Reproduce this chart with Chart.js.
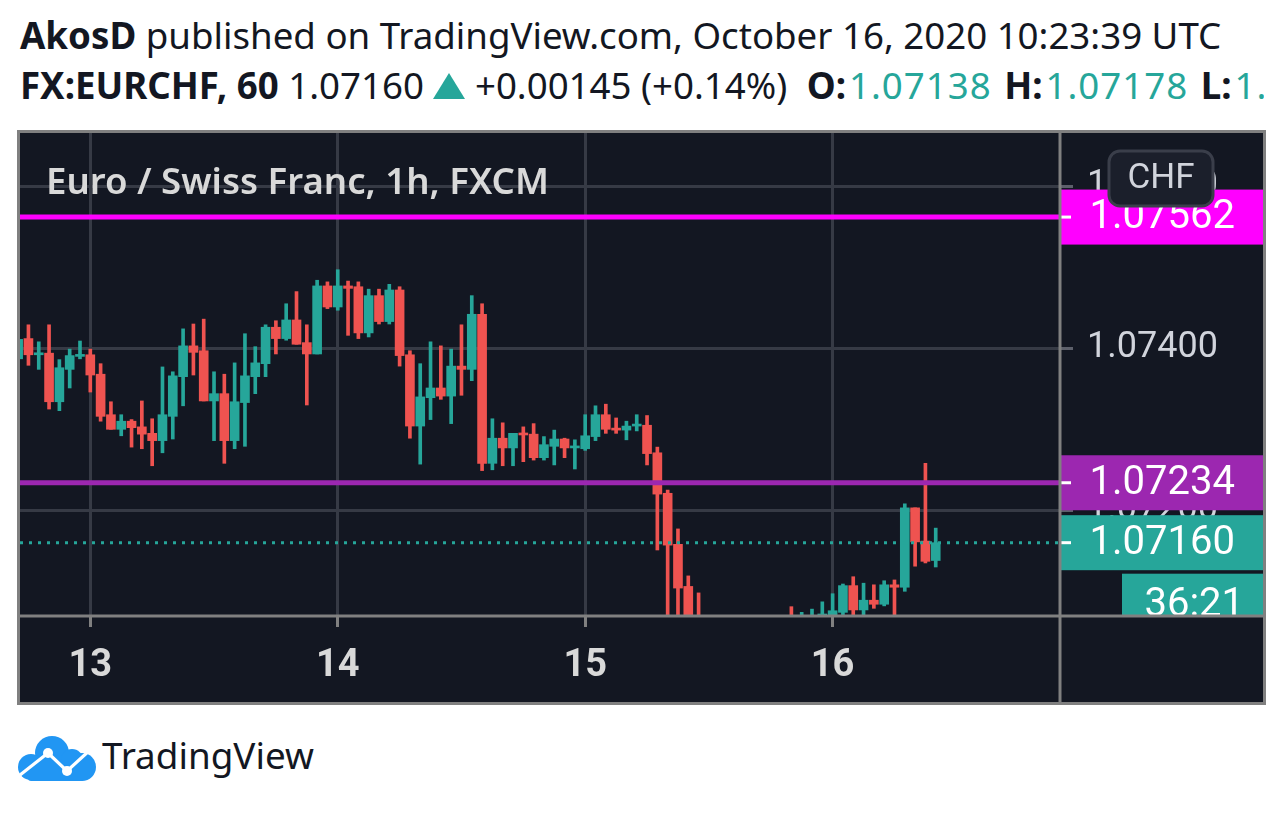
<!DOCTYPE html>
<html>
<head>
<meta charset="utf-8">
<script src="https://cdn.jsdelivr.net/npm/chart.js@4.4.1/dist/chart.umd.min.js"></script>
<style>
  html, body { margin:0; padding:0; background:#ffffff; width:1284px; height:813px; overflow:hidden; }
  .hdr { position:absolute; left:20px; white-space:nowrap; font-family:"Noto Sans", sans-serif; color:#131722; line-height:1; }
  #hdrclip { position:absolute; left:0; top:0; width:1264px; height:125px; overflow:hidden; }
  .teal { color:#26a69a; margin-left:3px; letter-spacing:1px; }
  .gapO { margin-left:10px; }
  .gap { margin-left:3px; }
  b { font-weight:700; }
  #wrap { position:absolute; left:17px; top:130px; width:1249px; height:575px; }
  #logo { position:absolute; left:18px; top:736px; }
  #logotext { position:absolute; left:102px; white-space:nowrap; font-family:"Noto Sans", sans-serif; color:#131722; line-height:1; }
  .tri { display:inline-block; vertical-align:baseline; }
</style>
</head>
<body>
<div id="hdrclip">
  <div class="hdr" id="h1"><b>AkosD</b> published on TradingView.com, October 16, 2020 10:23:39 UTC</div>
  <div class="hdr" id="h2"><b>FX:EURCHF, 60</b> 1.07160 <svg class="tri" width="32" height="26" viewBox="0 0 32 26"><polygon points="16,0 32,26 0,26" fill="#26a69a"/></svg> +0.00145 (+0.14%) <b class="gapO">O:</b><span class="teal">1.07138</span> <b class="gap">H:</b><span class="teal">1.07178</span> <b class="gap">L:</b><span class="teal">1.07130</span> <b class="gap">C:</b><span class="teal">1.07160</span></div>
</div>
<div id="wrap"><canvas id="c" width="1249" height="575"></canvas></div>
<svg id="logo" width="78" height="45" viewBox="0 0 78 45">
  <g fill="#2196f3">
    <circle cx="34" cy="17" r="17"/>
    <circle cx="13" cy="31" r="13"/>
    <circle cx="64" cy="31" r="14"/>
    <circle cx="54" cy="24" r="11"/>
    <rect x="10" y="24" width="56" height="21" rx="3"/>
  </g>
  <polyline points="2,39 30,17 49,35 72,14" fill="none" stroke="#ffffff" stroke-width="3.2" stroke-linejoin="round"/>
  <circle cx="30" cy="17" r="5" fill="#ffffff"/>
  <circle cx="49" cy="35" r="5" fill="#ffffff"/>
</svg>
<div id="logotext">TradingView</div>

<script>
// ---------------- DATA ----------------
// hourly candles, index 0 = first visible candle (12 Oct 17:00); x = hours since 13 Oct 00:00
const firstHour = -7;
const opens  = [1.07387,1.07412,1.07392,1.07394,1.07334,1.07374,1.07390,1.07392,1.07368,1.07318,
                1.07300,1.07310,1.07303,1.07295,1.07286,1.07316,1.07365,1.07403,1.07397,1.07335,
                1.07344,1.07286,1.07333,1.07365,1.07381,1.07426,1.07412,1.07435,1.07407,1.07393,
                1.07477,1.07451,1.07477,1.07476,1.07419,1.07465,1.07433,1.07472,1.07392,1.07304,
                1.07339,1.07351,1.07341,1.07378,1.07374,1.07442,1.07258,1.07289,1.07277,1.07295,
                1.07294,1.07265,1.07279,1.07288,1.07277,1.07276,1.07291,1.07318,1.07301,1.07299,
                1.07304,1.07305,1.07271,1.07221,1.07158,1.07106,1.07060,1.07035,1.07045,1.07030,
                1.07040,1.07025,1.07038,1.07045,1.07050,1.07055,1.07040,1.07055,1.07060,1.07064,
                1.07074,1.07107,1.07077,1.07089,1.07084,1.07108,1.07105,1.07203,1.07162,1.07138];
const highs  = [1.07411,1.07429,1.07408,1.07429,1.07386,1.07399,1.07409,1.07399,1.07381,1.07334,
                1.07318,1.07312,1.07335,1.07313,1.07377,1.07371,1.07424,1.07430,1.07436,1.07371,
                1.07368,1.07382,1.07418,1.07402,1.07429,1.07434,1.07455,1.07470,1.07429,1.07484,
                1.07482,1.07497,1.07483,1.07482,1.07473,1.07473,1.07479,1.07476,1.07397,1.07381,
                1.07408,1.07403,1.07399,1.07429,1.07465,1.07455,1.07313,1.07308,1.07295,1.07303,
                1.07307,1.07291,1.07299,1.07289,1.07287,1.07318,1.07329,1.07331,1.07314,1.07310,
                1.07318,1.07317,1.07278,1.07225,1.07177,1.07119,1.07098,1.07060,1.07062,1.07055,
                1.07058,1.07050,1.07060,1.07062,1.07065,1.07081,1.07074,1.07078,1.07087,1.07097,
                1.07109,1.07118,1.07110,1.07108,1.07113,1.07114,1.07208,1.07203,1.07258,1.07178];
const lows   = [1.07387,1.07379,1.07374,1.07325,1.07323,1.07351,1.07387,1.07346,1.07310,1.07300,
                1.07292,1.07278,1.07276,1.07255,1.07271,1.07288,1.07329,1.07367,1.07335,1.07286,
                1.07258,1.07276,1.07279,1.07344,1.07365,1.07393,1.07410,1.07405,1.07330,1.07393,
                1.07449,1.07447,1.07416,1.07412,1.07414,1.07430,1.07430,1.07378,1.07289,1.07257,
                1.07312,1.07337,1.07307,1.07342,1.07360,1.07249,1.07250,1.07255,1.07255,1.07260,
                1.07262,1.07262,1.07256,1.07265,1.07251,1.07274,1.07286,1.07295,1.07295,1.07287,
                1.07298,1.07256,1.07151,1.07040,1.07050,1.07030,1.07020,1.07010,1.07015,1.07005,
                1.07018,1.07010,1.07020,1.07025,1.07030,1.07030,1.07030,1.07040,1.07050,1.07055,
                1.07062,1.07064,1.07064,1.07079,1.07082,1.07060,1.07100,1.07131,1.07135,1.07130];
const closes = [1.07411,1.07392,1.07394,1.07334,1.07376,1.07391,1.07392,1.07367,1.07316,1.07300,
                1.07310,1.07302,1.07294,1.07286,1.07318,1.07366,1.07403,1.07395,1.07335,1.07344,
                1.07286,1.07334,1.07366,1.07382,1.07426,1.07412,1.07435,1.07405,1.07393,1.07477,
                1.07451,1.07477,1.07474,1.07419,1.07465,1.07433,1.07472,1.07391,1.07304,1.07340,
                1.07351,1.07341,1.07378,1.07374,1.07442,1.07258,1.07289,1.07277,1.07295,1.07293,
                1.07265,1.07281,1.07288,1.07277,1.07279,1.07292,1.07318,1.07300,1.07299,1.07304,
                1.07305,1.07270,1.07220,1.07157,1.07104,1.07055,1.07035,1.07045,1.07030,1.07040,
                1.07025,1.07038,1.07045,1.07050,1.07040,1.07040,1.07060,1.07064,1.07072,1.07076,
                1.07107,1.07077,1.07089,1.07084,1.07108,1.07105,1.07203,1.07161,1.07137,1.07160];

const dayTicks   = [0, 24, 48, 72];
const dayLabels  = ['13', '14', '15', '16'];
const priceTicks = [1.07200, 1.07400, 1.07600];

const levelMagenta = 1.07562;
const levelPurple  = 1.07234;
const lastPrice    = 1.07160;
const countdownText = '36:21';
const currencyText  = 'CHF';
const legendTitle   = 'Euro / Swiss Franc, 1h, FXCM';

// ---------------- STYLE ----------------
const UP = '#26a69a', DOWN = '#ef5350';
const BG = '#131722', GRID = '#363a45', FRAME = '#808080';
const xMin = -6.819, xMax = 94.054;
const yMin = 1.070695, yMax = 1.076658;

// ---------------- HEADER / FOOTER TEXT FIT ----------------
function fitWidth(el, target) {
  el.style.fontSize = '100px';
  const w = el.getBoundingClientRect().width;
  const s = 100 * target / w;
  el.style.fontSize = s + 'px';
  return s;
}
const h1 = document.getElementById('h1'), h2 = document.getElementById('h2');
const hs = fitWidth(h1, 1202);
h2.style.fontSize = hs + 'px';
h1.style.top = (50 - 0.888 * hs) + 'px';
h2.style.top = (100 - 0.888 * hs) + 'px';
const lt = document.getElementById('logotext');
const ls = fitWidth(lt, 212);
lt.style.top = (770 - 0.888 * ls) + 'px';

// ---------------- CHART ----------------
const xs = opens.map((_, i) => firstHour + i);
const candleColors = opens.map((o, i) => closes[i] >= o ? UP : DOWN);

const bodyData = opens.map((o, i) => ({ x: xs[i], y: [o, closes[i]] }));
const wickData = opens.map((o, i) => ({ x: xs[i], y: [lows[i], highs[i]] }));
const hline = v => [{ x: xMin, y: v }, { x: xMax, y: v }];

const overlay = {
  id: 'overlay',
  afterDraw(chart) {
    const ctx = chart.ctx, ca = chart.chartArea, ys = chart.scales.y;
    const W = chart.width, H = chart.height;
    const right = W - 1.5;
    ctx.save();

    // legend title
    ctx.font = '600 100px "Noto Sans"';
    const tw = ctx.measureText(legendTitle).width;
    const ts = 100 * 503 / tw;
    ctx.font = '600 ' + ts + 'px "Noto Sans"';
    ctx.fillStyle = '#d9d9d9';
    ctx.textAlign = 'left';
    ctx.textBaseline = 'middle';
    ctx.fillText(legendTitle, ca.left + 26, ca.top + 51);

    // price tags
    const tag = (val, color, text) => {
      const y = ys.getPixelForValue(val);
      ctx.fillStyle = color;
      ctx.fillRect(ca.right - 1, y - 27.5, right - ca.right + 1, 55);
      ctx.fillStyle = '#ffffff';
      ctx.fillRect(ca.right - 1, y - 1.5, 12, 3);
      ctx.font = '40px Roboto';
      ctx.textAlign = 'center';
      ctx.textBaseline = 'middle';
      ctx.fillText(text, (ca.right + right) / 2, y + 1);
      return y;
    };
    tag(levelMagenta, '#ff00ff', levelMagenta.toFixed(5));
    tag(levelPurple, '#9c27b0', levelPurple.toFixed(5));
    const yl = tag(lastPrice, UP, lastPrice.toFixed(5));

    // countdown tag (clipped by the time axis separator)
    ctx.save();
    ctx.beginPath();
    ctx.rect(ca.right, ca.top, right - ca.right, ca.bottom - ca.top);
    ctx.clip();
    const ct = yl + 27.5 + 3.5;
    ctx.fillStyle = UP;
    ctx.fillRect(ca.right + 62, ct, right - ca.right - 62, 55);
    ctx.fillStyle = '#ffffff';
    ctx.font = '40px Roboto';
    ctx.textAlign = 'center';
    ctx.textBaseline = 'middle';
    ctx.fillText(countdownText, (ca.right + 62 + right) / 2 + 1, ct + 32);
    ctx.restore();

    // currency button
    const bx = ca.right + 49, by = ca.top + 18, bw = 104, bh = 55;
    ctx.beginPath();
    ctx.roundRect(bx, by, bw, bh, 11);
    ctx.fillStyle = '#1b1f2b';
    ctx.fill();
    ctx.lineWidth = 3;
    ctx.strokeStyle = '#3a3e4a';
    ctx.stroke();
    ctx.fillStyle = '#d1d4dc';
    ctx.font = '35px Roboto';
    ctx.textAlign = 'center';
    ctx.textBaseline = 'middle';
    ctx.fillText(currencyText, bx + bw / 2, by + bh / 2 + 1);

    // frame and separators
    ctx.strokeStyle = FRAME;
    ctx.lineWidth = 3;
    ctx.beginPath();
    ctx.moveTo(ca.right, 0); ctx.lineTo(ca.right, H);
    ctx.moveTo(0, ca.bottom); ctx.lineTo(W, ca.bottom);
    ctx.stroke();
    ctx.strokeRect(1.5, 1.5, W - 3, H - 3);
    ctx.restore();
  }
};

const bgPlugin = {
  id: 'bg',
  beforeDraw(chart) {
    const ctx = chart.ctx;
    ctx.save();
    ctx.fillStyle = BG;
    ctx.fillRect(0, 0, chart.width, chart.height);
    ctx.restore();
  }
};

new Chart(document.getElementById('c'), {
  data: {
    datasets: [
      { type: 'line', data: hline(levelMagenta), borderColor: '#ff00ff', borderWidth: 5, pointRadius: 0, order: 0, clip: 0 },
      { type: 'line', data: hline(levelPurple), borderColor: '#9c27b0', borderWidth: 5, pointRadius: 0, order: 0, clip: 0 },
      { type: 'line', data: hline(lastPrice), borderColor: UP, borderWidth: 3, borderDash: [3, 6], borderCapStyle: 'butt', pointRadius: 0, order: 1, clip: 0 },
      { type: 'bar', data: bodyData, backgroundColor: candleColors, barThickness: 9, minBarLength: 2, grouped: false, order: 2, clip: 0 },
      { type: 'bar', data: wickData, backgroundColor: candleColors, barThickness: 3, grouped: false, order: 3, clip: 0 }
    ]
  },
  options: {
    responsive: false,
    animation: false,
    devicePixelRatio: 1,
    layout: { padding: { left: 3, right: 3, top: 3, bottom: 3 } },
    plugins: { legend: { display: false }, tooltip: { enabled: false } },
    scales: {
      x: {
        type: 'linear', position: 'bottom', min: xMin, max: xMax, offset: false,
        afterBuildTicks: s => { s.ticks = dayTicks.map(v => ({ value: v })); },
        afterFit: s => { s.height = 86; s.paddingLeft = 0; s.paddingRight = 0; },
        grid: { color: GRID, lineWidth: 3, tickColor: FRAME, tickLength: 11, offset: false },
        border: { display: false },
        ticks: {
          autoSkip: false, maxRotation: 0,
          callback: (v, i) => dayLabels[i],
          color: '#d9d9d9', font: { family: 'Roboto', size: 38, weight: 'bold' }, padding: 17
        }
      },
      y: {
        type: 'linear', position: 'right', min: yMin, max: yMax,
        afterBuildTicks: s => { s.ticks = priceTicks.map(v => ({ value: v })); },
        afterFit: s => { s.width = 203; s.paddingTop = 0; s.paddingBottom = 0; },
        grid: { color: GRID, lineWidth: 3, tickColor: '#5d606b', tickLength: 13 },
        border: { display: false },
        ticks: {
          callback: (v, i) => priceTicks[i].toFixed(5),
          color: '#d1d4dc', font: { family: 'Roboto', size: 36 }, padding: 14
        }
      }
    }
  },
  plugins: [bgPlugin, overlay]
});
</script>
</body>
</html>
